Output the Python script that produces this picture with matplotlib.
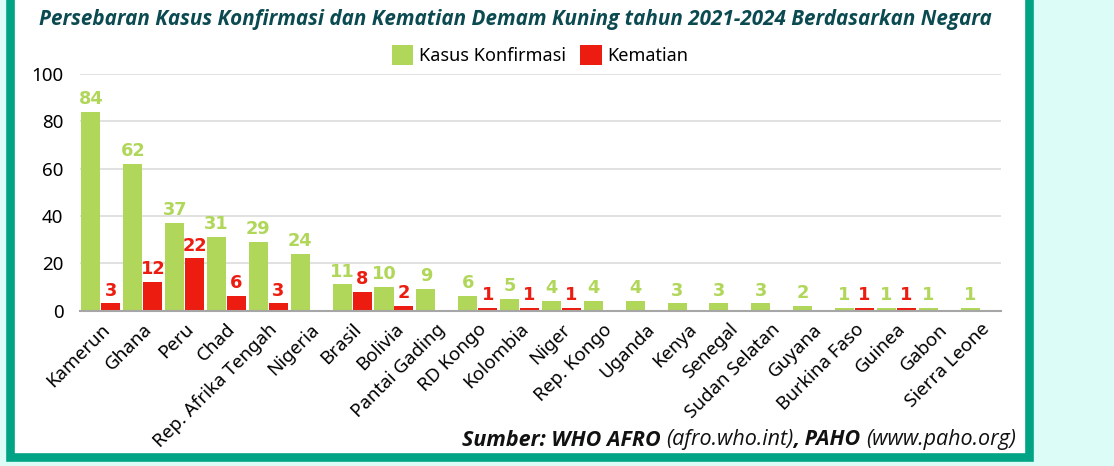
import matplotlib
matplotlib.use("Agg")
import numpy as np
import matplotlib.pyplot as plt
import matplotlib.transforms as mtransforms
from matplotlib.patches import Rectangle

# ── Data ─────────────────────────────────────────────────────────────────────
countries = ["Kamerun", "Ghana", "Peru", "Chad", "Rep. Afrika Tengah", "Nigeria",
             "Brasil", "Bolivia", "Pantai Gading", "RD Kongo", "Kolombia", "Niger",
             "Rep. Kongo", "Uganda", "Kenya", "Senegal", "Sudan Selatan", "Guyana",
             "Burkina Faso", "Guinea", "Gabon", "Sierra Leone"]
kasus = [84, 62, 37, 31, 29, 24, 11, 10, 9, 6, 5, 4, 4, 4, 3, 3, 3, 2, 1, 1, 1, 1]
kematian = [3, 12, 22, 6, 3, None, 8, 2, None, 1, 1, 1,
            None, None, None, None, None, None, 1, 1, None, None]
yticks = [0, 20, 40, 60, 80, 100]

# ── Palette ──────────────────────────────────────────────────────────────────
BG_OUT   = "#dcfcf7"
FRAME    = "#00a383"
GREEN    = "#b0d65a"
RED      = "#ec1c10"
TITLE_C  = "#0b4a50"
GRID_C   = "#d9d9d9"
AXIS_C   = "#a6a6a6"

W, H = 1114, 466
fig = plt.figure(figsize=(W / 100, H / 100), dpi=100, facecolor=BG_OUT)

# frame: white box with thick green border, open at the top
fig.patches.append(Rectangle((9.5 / W, (H - 457) / H), (1029 - 9.5) / W, 1.0,
                             transform=fig.transFigure, facecolor="white",
                             edgecolor=FRAME, linewidth=6.2, zorder=-5))

ax = fig.add_axes([80 / W, (H - 310.5) / H, (1001 - 80) / W, (310.5 - 74) / H])
ax.set_zorder(2)
ax.set_facecolor("none")

x = np.arange(len(countries))
k_vals = np.array(kasus, dtype=float)
m_vals = np.array([np.nan if v is None else v for v in kematian], dtype=float)

bw = 0.455
off = 0.238
b1 = ax.bar(x - off, k_vals, bw, color=GREEN, zorder=3, label="Kasus Konfirmasi")
b2 = ax.bar(x + off, np.nan_to_num(m_vals), bw, color=RED, zorder=3, label="Kematian")

lab_font = dict(family="DejaVu Sans", fontsize=12.8, fontweight="bold")
for xi, v in zip(x, k_vals):
    ax.annotate(f"{int(v)}", (xi - off, v), xytext=(0, 2.8), textcoords="offset points",
                ha="center", va="bottom", color=GREEN, **lab_font)
for xi, v in zip(x, m_vals):
    if not np.isnan(v):
        ax.annotate(f"{int(v)}", (xi + off, v), xytext=(0, 2.8), textcoords="offset points",
                    ha="center", va="bottom", color=RED, **lab_font)

ax.set_xlim(-0.5, len(countries) - 0.5)
ax.set_ylim(0, 100)
ax.set_yticks(yticks)
ax.set_yticklabels([str(t) for t in yticks], family="Noto Sans", fontsize=13.5)
ax.set_xticks(x)
ax.set_xticklabels(countries, rotation=45, ha="right", rotation_mode="anchor",
                   family="Noto Sans", fontsize=13.5)
shift = mtransforms.ScaledTranslation(6 / 100, 0, fig.dpi_scale_trans)
for lab in ax.get_xticklabels():
    lab.set_transform(lab.get_transform() + shift)
ax.tick_params(axis="both", length=0, colors="black")
ax.tick_params(axis="y", pad=12)
ax.tick_params(axis="x", pad=7)

ax.grid(axis="y", color=GRID_C, lw=1.1, zorder=0)
ax.set_axisbelow(True)
for s in ["top", "right", "left"]:
    ax.spines[s].set_visible(False)
ax.spines["bottom"].set_color(AXIS_C)
ax.spines["bottom"].set_linewidth(1.5)
ax.spines["bottom"].set_zorder(4)

# ── Title & legend ───────────────────────────────────────────────────────────
fig.text(515 / W, 1 - 19 / H,
         "Persebaran Kasus Konfirmasi dan Kematian Demam Kuning tahun 2021-2024 Berdasarkan Negara",
         ha="center", va="center", color=TITLE_C, family="Open Sans", style="italic",
         fontweight="bold", fontsize=14.9)

fig.legend(handles=[b1, b2], loc="center", bbox_to_anchor=(540 / W, 1 - 55 / H),
           ncol=2, frameon=False, prop=dict(family="Noto Sans", size=13),
           handlelength=1.2, handleheight=1.3, handletextpad=0.3, columnspacing=0.8)

# ── Source line (mixed weights), right aligned ───────────────────────────────
parts = [("Sumber: WHO AFRO ", "bold"), ("(afro.who.int)", "normal"),
         (", PAHO ", "bold"), ("(www.paho.org)", "normal")]
renderer = fig.canvas.get_renderer()
right = 1016
for txt, wt in reversed(parts):
    t = fig.text(right / W, 1 - 440 / H, txt, ha="right", va="center",
                 family="Open Sans", style="italic", fontweight=wt, fontsize=15.5,
                 color="#111111")
    bb = t.get_window_extent(renderer)
    right = bb.x0

fig.savefig("out.png", dpi=100, facecolor=BG_OUT)
